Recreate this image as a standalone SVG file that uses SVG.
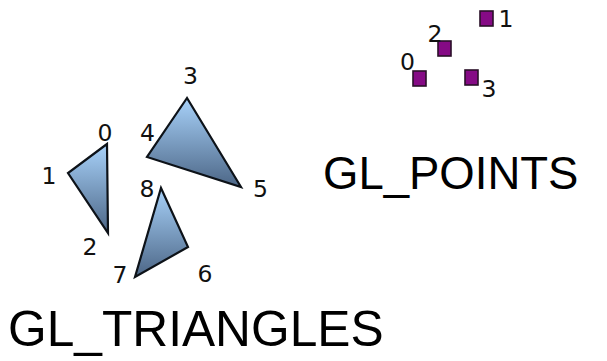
<svg xmlns="http://www.w3.org/2000/svg" width="607" height="361" viewBox="0 0 607 361">
<defs>
<linearGradient id="tg" x1="0" y1="0" x2="0" y2="1">
<stop offset="0" stop-color="#a8d2fa"/>
<stop offset="1" stop-color="#4c6686"/>
</linearGradient>
<style>
.tri{fill:url(#tg);stroke:#0d1218;stroke-width:2.2;stroke-linejoin:miter}
.pt{fill:#850a85;stroke:#2a1028;stroke-width:1.6}
.num{font-family:"DejaVu Sans",Verdana,sans-serif;font-size:23.5px;fill:#111;text-anchor:middle}
.title{font-family:"Liberation Sans",Arial,sans-serif;fill:#000}
</style>
</defs>
<rect width="607" height="361" fill="#fff"/>
<g id="triangles">
<g id="tri-a"><polygon class="tri" points="107,144 68,173 108,233"/></g>
<g id="tri-b"><polygon class="tri" points="187,98 147,157 241,187"/></g>
<g id="tri-c"><polygon class="tri" points="161,188 188,247 135,277"/></g>
</g>
<g id="tri-labels">
<text class="num" x="105" y="141">0</text>
<text class="num" x="49" y="184">1</text>
<text class="num" x="90" y="255">2</text>
<text class="num" x="190.5" y="84">3</text>
<text class="num" x="147.5" y="141">4</text>
<text class="num" x="260.5" y="197">5</text>
<text class="num" x="205" y="282">6</text>
<text class="num" x="120" y="283">7</text>
<text class="num" x="147" y="197">8</text>
</g>
<g id="points">
<g id="p0"><rect class="pt" x="413" y="71" width="13" height="15"/></g>
<g id="p1"><rect class="pt" x="480" y="11" width="13" height="15"/></g>
<g id="p2"><rect class="pt" x="438" y="41" width="13" height="15"/></g>
<g id="p3"><rect class="pt" x="465" y="70" width="13" height="15"/></g>
</g>
<g id="point-labels">
<text class="num" x="407.5" y="70">0</text>
<text class="num" x="506" y="27">1</text>
<text class="num" x="435" y="42">2</text>
<text class="num" x="489" y="97">3</text>
</g>
<text class="title" x="8" y="346" font-size="49.7">GL_TRIANGLES</text>
<text class="title" x="323" y="189" font-size="45.5">GL_POINTS</text>
</svg>
